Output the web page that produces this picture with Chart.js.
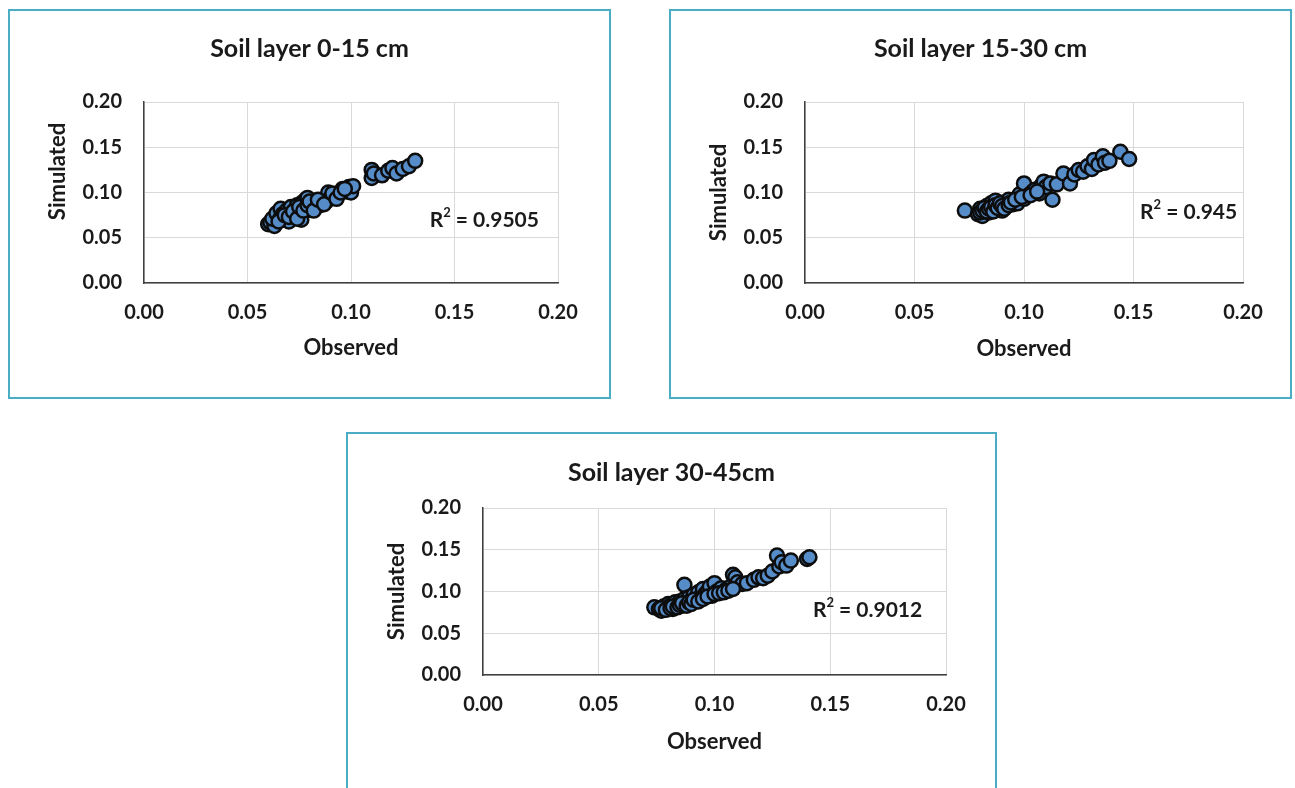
<!DOCTYPE html>
<html>
<head>
<meta charset="utf-8">
<title>Soil layers - observed vs simulated</title>
<script src="https://cdn.jsdelivr.net/npm/chart.js@4.4.0/dist/chart.umd.min.js"></script>
<style>
  body { margin: 0; width: 1295px; height: 788px; overflow: hidden; background: #fff; }
  .panel { position: absolute; box-sizing: border-box; border: 2px solid #4bacc6; background: #fff; }
  .panel canvas { display: block; }
</style>
</head>
<body>

<div class="panel" style="left:8px;top:9px;width:603px;height:390px">
  <canvas id="chart1" width="599" height="386"></canvas>
</div>
<div class="panel" style="left:669px;top:9px;width:623px;height:390px">
  <canvas id="chart2" width="619" height="386"></canvas>
</div>
<div class="panel" style="left:346px;top:432px;width:651px;height:400px">
  <canvas id="chart3" width="647" height="396"></canvas>
</div>

<script>
// tick labels shared by both axes
const tickValues = [0.00, 0.05, 0.10, 0.15, 0.20];

const titles = ['Soil layer 0-15 cm', 'Soil layer 15-30 cm', 'Soil layer 30-45cm'];
const r2Values = ['0.9505', '0.945', '0.9012'];

// layer 0-15 cm
const observed1 = [0.060,0.061,0.063,0.062,0.064,0.066,0.066,0.067,0.068,0.069,0.070,0.071,0.071,0.072,0.073,0.074,0.075,0.076,0.076,0.077,0.078,0.079,0.080,0.081,0.082,0.083,0.085,0.086,0.088,0.089,0.090,0.092,0.094,0.096,0.098,0.099,0.100,0.101,0.110,0.110,0.111,0.115,0.118,0.120,0.122,0.125,0.128,0.131,
                   0.065,0.068,0.070,0.072,0.074,0.075,0.077,0.079,0.080,0.082,0.084,0.087,0.091,0.093,0.095,0.097];
const simulated1 = [0.065,0.067,0.063,0.071,0.077,0.072,0.082,0.076,0.070,0.080,0.068,0.077,0.084,0.074,0.081,0.086,0.079,0.070,0.088,0.083,0.092,0.094,0.081,0.088,0.085,0.090,0.086,0.092,0.090,0.100,0.094,0.097,0.098,0.104,0.101,0.106,0.100,0.107,0.125,0.116,0.121,0.119,0.124,0.127,0.121,0.126,0.129,0.135,
                    0.068,0.075,0.073,0.079,0.071,0.084,0.080,0.086,0.090,0.080,0.092,0.087,0.099,0.093,0.100,0.104];

// layer 15-30 cm
const observed2 = [0.073,0.079,0.080,0.081,0.082,0.083,0.084,0.085,0.085,0.086,0.087,0.088,0.089,0.090,0.091,0.092,0.093,0.095,0.096,0.097,0.098,0.100,0.100,0.102,0.104,0.105,0.107,0.108,0.109,0.110,0.112,0.113,0.115,0.118,0.121,0.123,0.125,0.127,0.129,0.131,0.132,0.134,0.136,0.137,0.139,0.144,0.148,
                   0.080,0.081,0.082,0.083,0.084,0.085,0.086,0.087,0.088,0.089,0.090,0.091,0.093,0.094,0.096,0.099,0.103,0.106];
const simulated2 = [0.080,0.076,0.082,0.074,0.079,0.085,0.078,0.081,0.088,0.084,0.091,0.082,0.086,0.080,0.089,0.085,0.092,0.087,0.090,0.088,0.098,0.093,0.110,0.097,0.101,0.103,0.099,0.108,0.112,0.106,0.110,0.092,0.109,0.121,0.110,0.120,0.125,0.123,0.129,0.126,0.136,0.131,0.140,0.133,0.135,0.145,0.137,
                    0.078,0.080,0.083,0.079,0.082,0.084,0.079,0.086,0.083,0.088,0.085,0.082,0.086,0.089,0.092,0.095,0.097,0.101];

// layer 30-45 cm
const observed3 = [0.074,0.076,0.077,0.078,0.079,0.080,0.081,0.082,0.083,0.084,0.085,0.086,0.087,0.087,0.088,0.089,0.090,0.091,0.092,0.093,0.094,0.095,0.096,0.097,0.098,0.099,0.100,0.101,0.103,0.105,0.107,0.108,0.109,0.110,0.112,0.114,0.117,0.119,0.121,0.123,0.125,0.127,0.128,0.129,0.131,0.133,0.140,0.141,
                   0.077,0.079,0.081,0.082,0.084,0.085,0.086,0.088,0.089,0.090,0.091,0.093,0.095,0.097,0.100,0.102,0.104,0.106,0.108];
const simulated3 = [0.081,0.079,0.077,0.082,0.080,0.085,0.083,0.079,0.087,0.084,0.088,0.083,0.091,0.108,0.086,0.093,0.089,0.096,0.092,0.099,0.094,0.103,0.097,0.100,0.106,0.095,0.110,0.100,0.104,0.102,0.106,0.120,0.117,0.111,0.109,0.110,0.114,0.117,0.116,0.119,0.124,0.143,0.130,0.135,0.131,0.137,0.139,0.141,
                    0.080,0.078,0.080,0.082,0.081,0.084,0.086,0.083,0.087,0.085,0.090,0.088,0.091,0.094,0.097,0.098,0.099,0.101,0.103];

const textColor = '#1a1a1a';
const fontName = 'Lato, "Open Sans", sans-serif';

// titles, axis names and the R² note are painted here
const soilText = {
    id: 'soilText',
    afterDraw(chart, args, opts) {
        const ctx = chart.ctx;
        const area = chart.chartArea;
        ctx.save();
        ctx.fillStyle = textColor;
        ctx.textAlign = 'center';
        ctx.textBaseline = 'middle';

        ctx.font = 'bold 25px ' + fontName;
        ctx.fillText(opts.title, chart.width / 2, opts.titleY);

        ctx.font = 'bold 22px ' + fontName;
        ctx.fillText('Observed', (area.left + area.right) / 2, area.bottom + opts.xNameGap);

        ctx.save();
        ctx.translate(area.left - 86, (area.top + area.bottom) / 2 + opts.yNameShift);
        ctx.rotate(-Math.PI / 2);
        ctx.fillText('Simulated', 0, 0);
        ctx.restore();

        let x = chart.scales.x.getPixelForValue(opts.r2At[0]);
        let y = chart.scales.y.getPixelForValue(opts.r2At[1]);
        ctx.textAlign = 'left';
        ctx.font = 'bold 21px ' + fontName;
        ctx.fillText('R', x, y);
        x += ctx.measureText('R').width;
        ctx.font = 'bold 13px ' + fontName;
        ctx.fillText('2', x, y - 7);
        x += ctx.measureText('2').width;
        ctx.font = 'bold 21px ' + fontName;
        ctx.fillText(' = ' + opts.r2, x, y);
        ctx.restore();
    }
};

function axisOptions(padding, fixedSize, isX) {
    return {
        type: 'linear',
        min: tickValues[0],
        max: tickValues[tickValues.length - 1],
        afterBuildTicks: scale => {
            scale.ticks = tickValues.map(v => ({ value: v }));
        },
        afterFit: scale => {
            if (isX) scale.height = fixedSize;
            else scale.width = fixedSize;
        },
        grid: { color: '#d9d9d9', lineWidth: 1, drawTicks: false },
        border: { color: '#404040', width: 1.5 },
        ticks: {
            padding: padding,
            color: textColor,
            font: { family: fontName, size: 20, weight: 'bold' },
            callback: v => Number(v).toFixed(2)
        }
    };
}

function makeChart(id, observed, simulated, idx, layout) {
    const points = observed.map((o, i) => ({ x: o, y: simulated[i] }));
    return new Chart(document.getElementById(id), {
        type: 'scatter',
        data: {
            datasets: [{
                data: points,
                pointRadius: 7,
                pointBackgroundColor: '#568cc8',
                pointBorderColor: '#0d0d0d',
                pointBorderWidth: 2.5
            }]
        },
        options: {
            responsive: false,
            animation: false,
            devicePixelRatio: 1,
            layout: { padding: layout.padding },
            scales: {
                x: axisOptions(18, 70, true),
                y: axisOptions(22, 70, false)
            },
            plugins: {
                legend: { display: false },
                tooltip: { enabled: false },
                soilText: {
                    title: titles[idx],
                    r2: r2Values[idx],
                    r2At: layout.r2At,
                    titleY: layout.titleY,
                    xNameGap: layout.xNameGap,
                    yNameShift: layout.yNameShift
                }
            }
        },
        plugins: [soilText]
    });
}

window.onload = function () {
    makeChart('chart1', observed1, simulated1, 0, {
        padding: { left: 64, right: 51, top: 91, bottom: 44 },
        r2At: [0.138, 0.0696], titleY: 38, xNameGap: 65, yNameShift: -21
    });
    makeChart('chart2', observed2, simulated2, 1, {
        padding: { left: 64, right: 47, top: 91, bottom: 44 },
        r2At: [0.153, 0.0785], titleY: 38, xNameGap: 66, yNameShift: 0
    });
    makeChart('chart3', observed3, simulated3, 2, {
        padding: { left: 65, right: 49, top: 74, bottom: 85 },
        r2At: [0.1425, 0.0778], titleY: 39, xNameGap: 67, yNameShift: 0
    });
};
</script>
</body>
</html>
